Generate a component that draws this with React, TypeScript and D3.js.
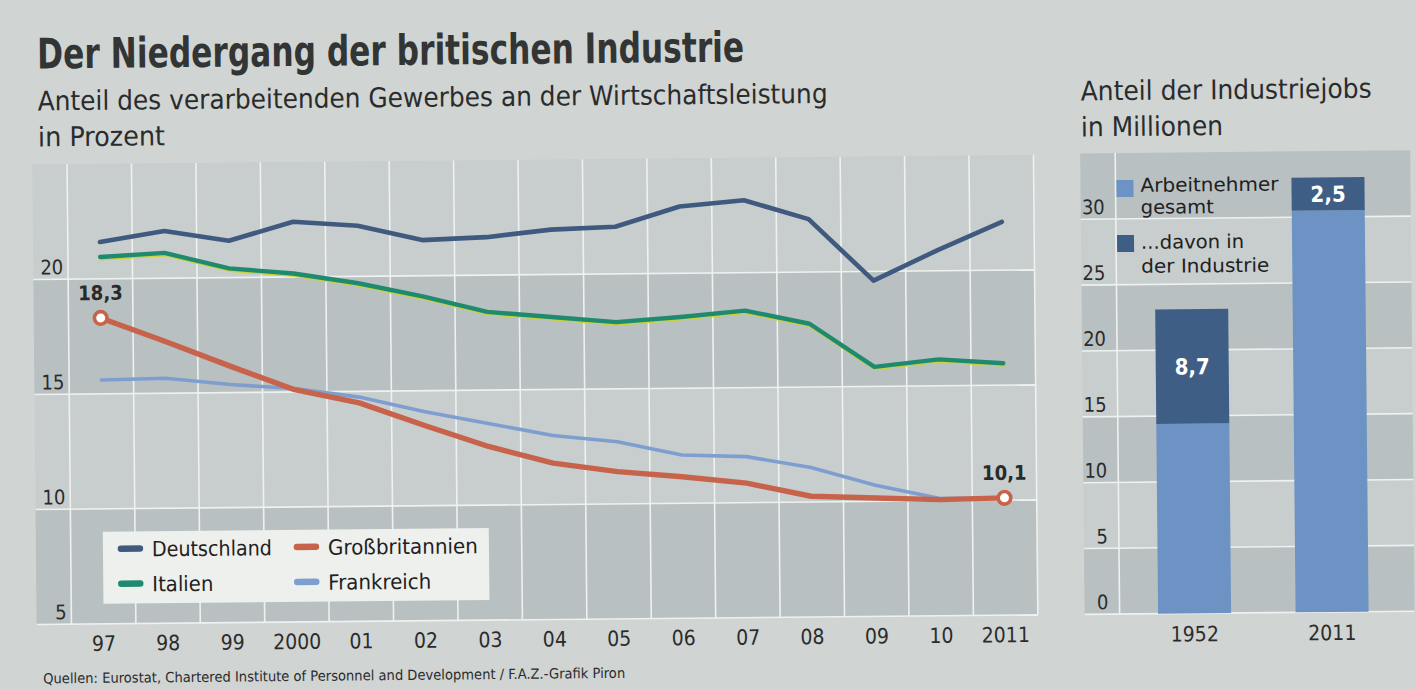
import React from 'react';
import * as d3 from 'd3';

const years = ['97', '98', '99', '2000', '01', '02', '03', '04', '05', '06', '07', '08', '09', '10', '2011'];
const deutschland = [21.6, 22.05, 21.6, 22.4, 22.2, 21.55, 21.65, 21.95, 22.05, 22.9, 23.15, 22.3, 19.6, 20.9, 22.1];
const italien = [20.95, 21.1, 20.4, 20.15, 19.7, 19.1, 18.4, 18.15, 17.9, 18.1, 18.35, 17.75, 15.85, 16.15, 15.95];
const grossbritannien = [18.3, 17.25, 16.15, 15.1, 14.5, 13.5, 12.55, 11.8, 11.4, 11.15, 10.85, 10.25, 10.15, 10.05, 10.1];
const frankreich = [15.6, 15.65, 15.35, 15.15, 14.75, 14.1, 13.55, 13.0, 12.7, 12.1, 12.0, 11.5, 10.7, 10.1, 10.1];
const yTicksLeft = [5, 10, 15, 20];

const barYears = ['1952', '2011'];
const arbeitnehmerGesamt = [23.1, 33.0];
const davonIndustrie = [8.7, 2.5];
const yTicksRight = [0, 5, 10, 15, 20, 25, 30];

const FONT = "'DejaVu Sans Condensed', 'Liberation Sans Narrow', 'DejaVu Sans', sans-serif";
const TEXT = '#2a2c2c';
const PAGE = '#d0d4d3';
const LIGHT = '#c8cecd';
const DARK = '#b8c0c1';
const GRID = '#eef1f0';
const C_DE = '#405a7f';
const C_IT = '#1f8a6f';
const C_GB = '#c7634a';
const C_FR = '#7e9ecf';
const C_BAR_L = '#6d93c4';
const C_BAR_D = '#3f5e86';

export default function App() {
  const xL = d3.scalePoint<string>().domain(years).range([101, 1003]);
  const step = xL.step();
  const yL = d3.scaleLinear().domain([5, 25]).range([618, 158]);
  const leftX0 = 34;
  const leftX1 = (xL('2011') as number) + step / 2;

  const yR = d3.scaleLinear().domain([0, 35]).range([618, 157]);
  const xR = d3.scaleBand<string>().domain(barYears).range([1117, 1404.5]).paddingInner(0.469).paddingOuter(0.28);
  const rightX0 = 1082;
  const rightX1 = 1412;

  const line = d3.line<number>().x((_, i) => xL(years[i]) as number).y((d) => yL(d));

  const leftBands = d3.range(5, 25, 5);
  const rightBands = d3.range(0, 35, 5);
  const vGrid = years.map((y) => (xL(y) as number) - step / 2).concat([leftX1]);

  const legend = [
    { name: 'Deutschland', color: C_DE, x: 116, y: 543, w: 120 },
    { name: 'Großbritannien', color: C_GB, x: 292, y: 543, w: 150 },
    { name: 'Italien', color: C_IT, x: 116, y: 578, w: 61 },
    { name: 'Frankreich', color: C_FR, x: 292, y: 578, w: 103 },
  ];

  const gbFirst = grossbritannien[0];
  const gbLast = grossbritannien[grossbritannien.length - 1];
  const fmt = (v: number) => v.toFixed(1).replace('.', ',');

  return (
    <div style={{ position: 'absolute', left: 0, top: 0 }}>
      <svg width={1416} height={689} viewBox="0 0 1416 689" style={{ display: 'block' }}>
        <rect x={0} y={0} width={1416} height={689} fill={PAGE} />
        <g transform="rotate(-0.55 708 344)" fontFamily={FONT}>
          {/* Titles */}
          <text x={40} y={62} fontSize={42} fontWeight="bold" fill="#333535" textLength={707} lengthAdjust="spacingAndGlyphs">
            Der Niedergang der britischen Industrie
          </text>
          <text x={40} y={104} fontSize={27} fill={TEXT} textLength={790} lengthAdjust="spacingAndGlyphs">
            Anteil des verarbeitenden Gewerbes an der Wirtschaftsleistung
          </text>
          <text x={40} y={140} fontSize={27} fill={TEXT} textLength={127} lengthAdjust="spacingAndGlyphs">
            in Prozent
          </text>
          <text x={1083} y={104} fontSize={27} fill={TEXT} textLength={291} lengthAdjust="spacingAndGlyphs">
            Anteil der Industriejobs
          </text>
          <text x={1083} y={140} fontSize={27} fill={TEXT} textLength={142} lengthAdjust="spacingAndGlyphs">
            in Millionen
          </text>

          {/* Left chart background */}
          {leftBands.map((v, i) => (
            <rect key={'lb' + v} x={leftX0} y={yL(v + 5)} width={leftX1 - leftX0} height={yL(v) - yL(v + 5)} fill={i % 2 === 0 ? DARK : LIGHT} />
          ))}
          {yTicksLeft.map((v) => (
            <line key={'lh' + v} x1={leftX0} x2={leftX1} y1={yL(v)} y2={yL(v)} stroke={GRID} strokeWidth={1.6} />
          ))}
          {vGrid.map((x, i) => (
            <line key={'lv' + i} x1={x} x2={x} y1={yL(25)} y2={yL(5)} stroke={GRID} strokeWidth={1.6} />
          ))}
          {yTicksLeft.map((v) => (
            <text key={'lt' + v} x={64} y={yL(v) - 5} fontSize={20} fill={TEXT} textAnchor="end">
              {v}
            </text>
          ))}
          {years.map((y) => (
            <text key={'lx' + y} x={xL(y) as number} y={645} fontSize={21} fill={TEXT} textAnchor="middle">
              {y}
            </text>
          ))}

          {/* Lines */}
          <path d={line(frankreich) as string} fill="none" stroke={C_FR} strokeWidth={3.6} strokeLinejoin="round" strokeLinecap="round" />
          <path d={line(italien) as string} fill="none" stroke="#c9d23c" strokeWidth={4.4} strokeLinejoin="round" strokeLinecap="round" transform="translate(0.6,1.3)" />
          <path d={line(italien) as string} fill="none" stroke={C_IT} strokeWidth={4.4} strokeLinejoin="round" strokeLinecap="round" />
          <path d={line(deutschland) as string} fill="none" stroke={C_DE} strokeWidth={4.6} strokeLinejoin="round" strokeLinecap="round" />
          <path d={line(grossbritannien) as string} fill="none" stroke={C_GB} strokeWidth={5.4} strokeLinejoin="round" strokeLinecap="round" />
          {[
            { k: years[0], v: gbFirst },
            { k: years[years.length - 1], v: gbLast },
          ].map((p) => (
            <g key={'gb' + p.k}>
              <circle cx={xL(p.k) as number} cy={yL(p.v)} r={6.3} fill="#ffffff" stroke={C_GB} strokeWidth={3.6} />
              <text x={xL(p.k) as number} y={yL(p.v) - 18} fontSize={20} fontWeight="bold" fill="#2a2a2a" textAnchor="middle">
                {fmt(p.v)}
              </text>
            </g>
          ))}

          {/* Legend */}
          <rect x={101} y={526} width={386} height={72} fill="#eef0ee" />
          {legend.map((l) => (
            <g key={l.name}>
              <line x1={l.x + 3} x2={l.x + 22} y1={l.y} y2={l.y} stroke={l.color} strokeWidth={6.5} strokeLinecap="round" />
              <text x={l.x + 34} y={l.y + 8} fontSize={21} fill="#1f2121" textLength={l.w} lengthAdjust="spacingAndGlyphs">
                {l.name}
              </text>
            </g>
          ))}

          {/* Right chart background */}
          {rightBands.map((v, i) => (
            <rect key={'rb' + v} x={rightX0} y={yR(v + 5)} width={rightX1 - rightX0} height={yR(v) - yR(v + 5)} fill={i % 2 === 0 ? DARK : LIGHT} />
          ))}
          {yTicksRight.map((v) => (
            <line key={'rh' + v} x1={rightX0} x2={rightX1} y1={yR(v)} y2={yR(v)} stroke={GRID} strokeWidth={1.6} />
          ))}
          <line x1={1117} x2={1117} y1={yR(35)} y2={yR(0)} stroke={GRID} strokeWidth={1.6} />
          {yTicksRight.map((v) => (
            <text key={'rt' + v} x={1106} y={yR(v) - 5} fontSize={20} fill={TEXT} textAnchor="end">
              {v}
            </text>
          ))}

          {/* Bars */}
          {barYears.map((y, i) => {
            const x = xR(y) as number;
            const bw = xR.bandwidth();
            const rest = arbeitnehmerGesamt[i] - davonIndustrie[i];
            const total = arbeitnehmerGesamt[i];
            return (
              <g key={'bar' + y}>
                <rect x={x} y={yR(rest)} width={bw} height={yR(0) - yR(rest)} fill={C_BAR_L} />
                <rect x={x} y={yR(total)} width={bw} height={yR(rest) - yR(total)} fill={C_BAR_D} />
                <text x={x + bw / 2} y={(yR(total) + yR(rest)) / 2 + 8} fontSize={22} fontWeight="bold" fill="#ffffff" textAnchor="middle">
                  {fmt(davonIndustrie[i])}
                </text>
                <text x={x + bw / 2} y={646} fontSize={21} fill={TEXT} textAnchor="middle">
                  {y}
                </text>
              </g>
            );
          })}

          {/* Right legend */}
          <rect x={1118} y={184} width={17} height={17} fill={C_BAR_L} />
          <text x={1142} y={196} fontSize={19} fill="#1f2121" textLength={138} lengthAdjust="spacingAndGlyphs">Arbeitnehmer</text>
          <text x={1142} y={218} fontSize={19} fill="#1f2121" textLength={73} lengthAdjust="spacingAndGlyphs">gesamt</text>
          <rect x={1118} y={239} width={17} height={17} fill={C_BAR_D} />
          <text x={1142} y={253} fontSize={19} fill="#1f2121" textLength={103} lengthAdjust="spacingAndGlyphs">...davon in</text>
          <text x={1142} y={277} fontSize={19} fill="#1f2121" textLength={128} lengthAdjust="spacingAndGlyphs">der Industrie</text>

          {/* Source */}
          <text x={40} y={677} fontSize={14} fill={TEXT} textLength={582} lengthAdjust="spacingAndGlyphs">
            Quellen: Eurostat, Chartered Institute of Personnel and Development / F.A.Z.-Grafik Piron
          </text>
        </g>
      </svg>
    </div>
  );
}
